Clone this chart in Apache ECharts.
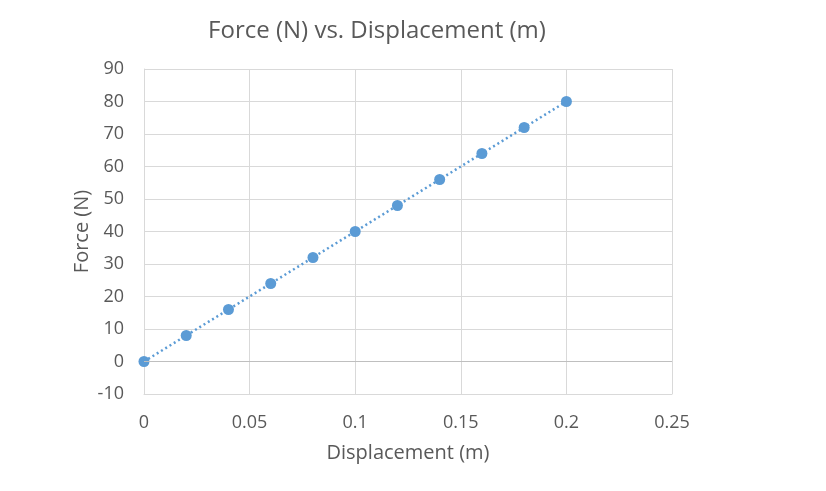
<!DOCTYPE html>
<html>
<head>
<meta charset="utf-8">
<script src="https://cdn.jsdelivr.net/npm/echarts@6/dist/echarts.min.js"></script>
<style>
  html, body { margin: 0; padding: 0; background: #fff; }
  #chart { width: 826px; height: 491px; }
</style>
</head>
<body>
<div id="chart"></div>
<script>
// measured points
const displacement = [0, 0.02, 0.04, 0.06, 0.08, 0.1, 0.12, 0.14, 0.16, 0.18, 0.2];
const force = [0, 8, 16, 24, 32, 40, 48, 56, 64, 72, 80];
// linear trendline end points
const trendX = [0, 0.2];
const trendY = [0, 80];

const points = displacement.map((d, i) => [d, force[i]]);
const trend = trendX.map((d, i) => [d, trendY[i]]);

const textColor = "#595959";
const font = "'Open Sans', 'Noto Sans', sans-serif";

const chart = echarts.init(document.getElementById("chart"));
chart.setOption({
  animation: false,
  title: {
    text: "Force (N) vs. Displacement (m)",
    left: 372,
    top: 14,
    textAlign: "center",
    textStyle: { color: textColor, fontSize: 24, fontWeight: "normal", fontFamily: font }
  },
  grid: { left: 144, right: 154, top: 69, bottom: 97 },
  xAxis: {
    type: "value",
    min: 0,
    max: 0.25,
    interval: 0.05,
    name: "Displacement (m)",
    nameLocation: "middle",
    nameGap: 49,
    nameTextStyle: { color: textColor, fontSize: 20, fontFamily: font },
    axisLine: { onZero: false, lineStyle: { color: "#d9d9d9" } },
    axisTick: { show: false },
    axisLabel: { color: textColor, fontSize: 18, fontFamily: font, margin: 20 },
    splitLine: { lineStyle: { color: "#d9d9d9" } }
  },
  yAxis: {
    type: "value",
    min: -10,
    max: 90,
    interval: 10,
    name: "Force (N)",
    nameLocation: "middle",
    nameGap: 52,
    nameMoveOverlap: false,
    nameTextStyle: { color: textColor, fontSize: 20, fontFamily: font },
    axisLine: { show: true, lineStyle: { color: "#d9d9d9" } },
    axisTick: { show: false },
    axisLabel: { color: textColor, fontSize: 18, fontFamily: font, margin: 20 },
    splitLine: { lineStyle: { color: "#d9d9d9" } }
  },
  series: [
    {
      type: "line",
      data: trend,
      showSymbol: false,
      silent: true,
      lineStyle: { color: "#5b9bd5", width: 2.5, type: [2, 3] },
      markLine: {
        silent: true,
        symbol: "none",
        label: { show: false },
        lineStyle: { color: "#bfbfbf", width: 1, type: "solid" },
        data: [{ yAxis: 0 }]
      },
      z: 1
    },
    {
      type: "scatter",
      data: points,
      symbolSize: 11,
      itemStyle: { color: "#5b9bd5", opacity: 1 },
      z: 3
    }
  ]
});
</script>
</body>
</html>
